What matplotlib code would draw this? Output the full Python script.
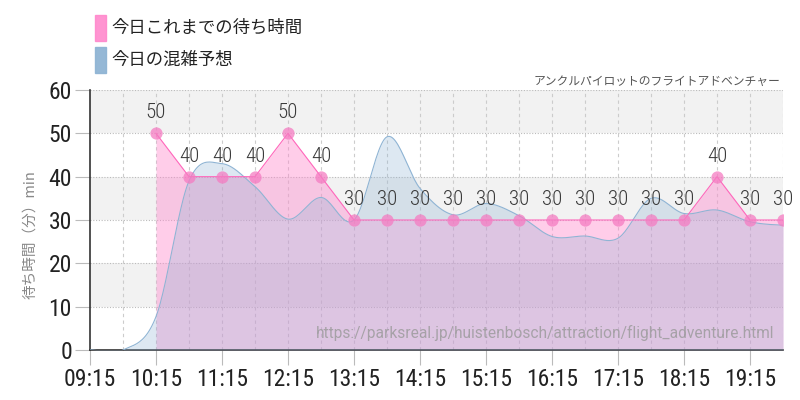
import numpy as np
import matplotlib
matplotlib.use('Agg')
import matplotlib.pyplot as plt
from matplotlib.patches import Rectangle

# times in hours (09:15 -> 9.25)
wait_times = [10.25, 10.75, 11.25, 11.75, 12.25, 12.75, 13.25, 13.75, 14.25, 14.75,
              15.25, 15.75, 16.25, 16.75, 17.25, 17.75, 18.25, 18.75, 19.25, 19.75]
wait_values = [50, 40, 40, 40, 50, 40, 30, 30, 30, 30,
               30, 30, 30, 30, 30, 30, 30, 40, 30, 30]

forecast_times = [9.25, 9.75, 10.25, 10.75, 11.25, 11.75, 12.25, 12.75, 13.25, 13.75,
                  14.25, 14.75, 15.25, 15.75, 16.25, 16.75, 17.25, 17.75, 18.25, 18.75,
                  19.25, 19.75]
forecast_values = [0, 0, 7.7, 39, 43, 37.7, 30.2, 35.2, 30, 49.2,
                   37.3, 31.2, 33.8, 31, 26.2, 26.3, 25.8, 35, 31.5, 32.3,
                   29.6, 28.8]

tick_pos = [9.25, 10.25, 11.25, 12.25, 13.25, 14.25, 15.25, 16.25, 17.25, 18.25, 19.25]
tick_labels = ['09:15', '10:15', '11:15', '12:15', '13:15', '14:15',
               '15:15', '16:15', '17:15', '18:15', '19:15']

legend_wait = '今日これまでの待ち時間'
legend_forecast = '今日の混雑予想'
subtitle = 'アンクルパイロットのフライトアドベンチャー'
ylabel = '待ち時間（分）min'
url = 'https://parksreal.jp/huistenbosch/attraction/flight_adventure.html'

PINK = '#ff88cc'
BLUE = '#8fb4d4'
CJK = ['Noto Sans CJK JP', 'DejaVu Sans']
NUM = ['Roboto Condensed', 'DejaVu Sans']


def catmull_rom(x, y, steps=24):
    # smooth curve through the points (rendering only)
    x = np.asarray(x, float)
    y = np.asarray(y, float)
    px = np.concatenate([[2 * x[0] - x[1]], x, [2 * x[-1] - x[-2]]])
    py = np.concatenate([[y[0]], y, [y[-1]]])
    xs, ys = [], []
    t = np.linspace(0, 1, steps, endpoint=False)
    for i in range(1, len(px) - 2):
        p0, p1, p2, p3 = py[i - 1], py[i], py[i + 1], py[i + 2]
        yy = 0.5 * ((2 * p1) + (-p0 + p2) * t + (2 * p0 - 5 * p1 + 4 * p2 - p3) * t ** 2
                    + (-p0 + 3 * p1 - 3 * p2 + p3) * t ** 3)
        xx = px[i] + (px[i + 1] - px[i]) * t
        xs.append(xx)
        ys.append(yy)
    xs.append([x[-1]])
    ys.append([y[-1]])
    return np.concatenate(xs), np.concatenate(ys)


fig = plt.figure(figsize=(8, 4), dpi=100)
ax = fig.add_axes([90 / 800, 50 / 400, 693 / 800, 260 / 400])

ax.set_xlim(9.25, 19.75)
ax.set_ylim(0, 60)

for lo in (10, 30, 50):
    ax.axhspan(lo, lo + 10, color='#f2f2f2', zorder=0, lw=0)
for yv in range(10, 61, 10):
    ax.axhline(yv, color='#bbbbbb', ls=(0, (1, 1.5)), lw=0.8, zorder=1)
for xv in np.arange(9.75, 19.8, 0.5):
    ax.axvline(xv, color='#cccccc', ls=(0, (3, 3)), lw=0.8, zorder=1)

# actual wait times (fill under the forecast)
ax.fill_between(wait_times, wait_values, 0, color=PINK, alpha=0.42, lw=0, zorder=2)

# forecast
fx, fy = catmull_rom(forecast_times, forecast_values)
ax.fill_between(fx, fy, 0, color=BLUE, alpha=0.3, lw=0, zorder=3)
ax.plot(fx, fy, color=BLUE, lw=0.8, zorder=3)

ax.plot(wait_times, wait_values, color='#ff66bb', lw=0.8, zorder=4)
ax.scatter(wait_times, wait_values, s=78, color='#f57cc2', alpha=0.75, lw=0, zorder=5)
for t, v in zip(wait_times, wait_values):
    ax.annotate(str(v), (t, v), xytext=(0, 8), textcoords='offset points',
                ha='center', va='bottom', fontsize=15, color='#3a3a3a',
                family=NUM, fontweight='light', zorder=6)

for s in ('top', 'right'):
    ax.spines[s].set_visible(False)
ax.spines['left'].set_color('#333333')
ax.spines['bottom'].set_color('#333333')
ax.spines['left'].set_linewidth(1.2)
ax.spines['bottom'].set_linewidth(1.2)

ax.set_yticks(range(0, 61, 10))
ax.set_xticks(tick_pos)
ax.set_xticklabels(tick_labels)
ax.tick_params(axis='both', length=11, width=0.8, color='#bbbbbb', labelsize=17,
               labelcolor='#222222', pad=2)
for lab in ax.get_xticklabels() + ax.get_yticklabels():
    lab.set_family(NUM)

ax.text(0.988, 0.035, url, transform=ax.transAxes, ha='right', va='bottom',
        fontsize=11.2, color='#999999', alpha=0.8, family=['Roboto', 'DejaVu Sans'],
        zorder=7)

# legend
fig.patches.append(Rectangle((95 / 800, 1 - 41 / 400), 11 / 800, 26 / 400,
                             transform=fig.transFigure, color=PINK, alpha=0.9))
fig.patches.append(Rectangle((95 / 800, 1 - 73 / 400), 11 / 800, 26 / 400,
                             transform=fig.transFigure, color=BLUE, alpha=0.95))
fig.text(111 / 800, 1 - 28 / 400, legend_wait, fontsize=12.5, va='center',
         color='#222222', family=CJK)
fig.text(111 / 800, 1 - 60 / 400, legend_forecast, fontsize=12.5, va='center',
         color='#222222', family=CJK)

fig.text(780 / 800, 1 - 81 / 400, subtitle, fontsize=8.5, ha='right', va='center',
         color='#555555', family=CJK)
fig.text(30 / 800, 1 - 235 / 400, ylabel, fontsize=10.5, rotation=90, ha='center',
         va='center', color='#888888', family=CJK)

fig.savefig('out.png', dpi=100)
